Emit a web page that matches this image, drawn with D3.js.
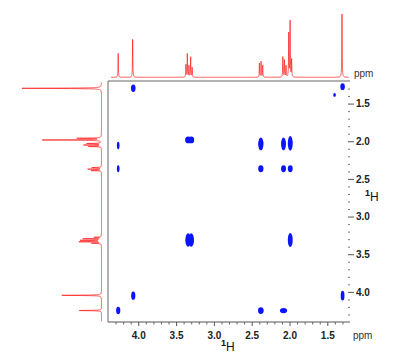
<!DOCTYPE html>
<html><head><meta charset="utf-8">
<script src="https://cdn.jsdelivr.net/npm/d3@7"></script>
<style>
html,body{margin:0;padding:0;background:#fff;}
svg{display:block;font-family:"Liberation Sans",Arial,sans-serif;}
</style></head>
<body>
<svg id="c" width="400" height="357"></svg>
<script>
// ---- data ----
const xDomain = [4.4, 1.2];
const yDomain = [1.2, 4.4];
const majorTicks = [4.0, 3.5, 3.0, 2.5, 2.0, 1.5];
const yMajorTicks = [1.5, 2.0, 2.5, 3.0, 3.5, 4.0];
const tickLabels = ["4.0", "3.5", "3.0", "2.5", "2.0", "1.5"];
const yTickLabels = ["1.5", "2.0", "2.5", "3.0", "3.5", "4.0"];
const axisTitle = "H";
const axisIsotope = "1";
const unitLabel = "ppm";

// F2 (top) 1D spectrum lines: shift (ppm), relative intensity
const topShifts  = [4.265, 4.074, 3.370, 3.351, 3.330, 3.307, 3.287, 2.398, 2.376, 2.354, 2.088, 2.067, 2.046, 2.010, 1.992, 1.972, 1.306];
const topHeights = [0.38, 0.60, 0.20, 0.37, 0.18, 0.32, 0.15, 0.22, 0.25, 0.19, 0.32, 0.27, 0.18, 0.70, 0.88, 0.28, 1.00];

// F1 (left) 1D spectrum lines
const leftShifts  = [1.297, 1.960, 1.983, 2.030, 2.050, 2.070, 2.350, 2.370, 2.390, 3.275, 3.295, 3.315, 3.335, 3.355, 4.046, 4.248];
const leftHeights = [1.00, 0.30, 0.74, 0.18, 0.22, 0.16, 0.12, 0.17, 0.13, 0.09, 0.23, 0.26, 0.28, 0.12, 0.50, 0.28];

// 2D cross/diagonal peaks: F2 ppm, F1 ppm, F2 width ppm, F1 width ppm
const peakF2 = [4.066, 1.298, 1.404, 4.265, 4.265, 3.340, 3.300, 2.379, 2.079, 1.990, 2.379, 2.079, 1.990, 3.340, 3.300, 1.990, 4.066, 4.265, 2.379, 2.079, 1.298];
const peakF1 = [1.297, 1.276, 1.385, 2.058, 2.365, 1.983, 1.983, 2.036, 2.036, 2.028, 2.365, 2.365, 2.365, 3.311, 3.311, 3.311, 4.050, 4.248, 4.248, 4.248, 4.050];
const peakW2 = [0.060, 0.060, 0.035, 0.035, 0.035, 0.080, 0.080, 0.070, 0.065, 0.065, 0.070, 0.065, 0.065, 0.075, 0.075, 0.065, 0.055, 0.055, 0.075, 0.095, 0.050];
const peakW1 = [0.100, 0.090, 0.050, 0.100, 0.090, 0.090, 0.090, 0.170, 0.170, 0.195, 0.090, 0.090, 0.090, 0.180, 0.180, 0.185, 0.110, 0.100, 0.090, 0.070, 0.130];

// ---- layout ----
const L = 108, R = 350, T = 81, B = 322;
const svg = d3.select("#c");
const x = d3.scaleLinear().domain(xDomain).range([L, R]);
const y = d3.scaleLinear().domain(yDomain).range([T, B]);
const topY = d3.scaleLinear().domain([0, 1]).range([77.3, 14]);
const leftX = d3.scaleLinear().domain([0, 1]).range([101.5, 22]);

function lineshape(shifts, heights, lo, hi, g) {
  const pts = [];
  for (let p = lo; p <= hi + 1e-9; p += 0.0007) {
    let v = 0;
    for (let i = 0; i < shifts.length; i++) {
      const d = p - shifts[i];
      v += heights[i] * g * g / (d * d + g * g);
    }
    pts.push([p, v]);
  }
  return pts;
}

// top spectrum
const topPts = lineshape(topShifts, topHeights, 1.22, 4.36, 0.0028);
svg.append("path")
  .attr("d", d3.line().x(d => x(d[0])).y(d => topY(d[1]))(topPts))
  .attr("fill", "none").attr("stroke", "#ff1010").attr("stroke-width", 0.75).attr("stroke-opacity", 0.9);

// left spectrum
const leftPts = lineshape(leftShifts, leftHeights, 1.22, 4.39, 0.0028);
svg.append("path")
  .attr("d", d3.line().x(d => leftX(d[1])).y(d => y(d[0]))(leftPts))
  .attr("fill", "none").attr("stroke", "#ff1010").attr("stroke-width", 0.75).attr("stroke-opacity", 0.9);

// frame (top & left)
svg.append("line").attr("x1", L).attr("x2", R).attr("y1", T).attr("y2", T)
  .attr("stroke", "#666").attr("stroke-width", 1);
svg.append("line").attr("x1", L).attr("x2", L).attr("y1", T).attr("y2", B)
  .attr("stroke", "#666").attr("stroke-width", 1);

// cross peaks
const peaks = peakF2.map((v, i) => ({f2: v, f1: peakF1[i], w2: peakW2[i], w1: peakW1[i]}));
svg.append("g").selectAll("ellipse").data(peaks).join("ellipse")
  .attr("cx", d => x(d.f2)).attr("cy", d => y(d.f1))
  .attr("rx", d => Math.abs(x(d.f2 + d.w2 / 2) - x(d.f2)))
  .attr("ry", d => Math.abs(y(d.f1 + d.w1 / 2) - y(d.f1)))
  .attr("fill", "#0a14ff");

// minor ticks
const minor = d3.range(13, 44).map(v => v / 10).filter(v => v >= 1.2 && v <= 4.4 && Math.abs(v * 2 - Math.round(v * 2)) > 1e-6);

// bottom axis
const bx = svg.append("g").attr("transform", `translate(0,${B})`);
bx.append("line").attr("x1", L).attr("x2", R).attr("stroke", "#555");
bx.append("g").call(d3.axisBottom(x).tickValues(minor).tickSize(2.5).tickFormat(""))
  .call(g => g.select(".domain").remove())
  .call(g => g.selectAll("line").attr("stroke", "#666"));
bx.append("g").call(d3.axisBottom(x).tickValues(majorTicks).tickSize(4)
    .tickFormat((d, i) => tickLabels[i]).tickPadding(6))
  .call(g => g.select(".domain").remove())
  .call(g => g.selectAll("line").attr("stroke", "#555"))
  .call(g => g.selectAll("text").attr("font-size", 10).attr("font-weight", "bold")
    .attr("fill", "#222").attr("font-family", "Liberation Sans, Arial, sans-serif"));

// right axis (ticks only)
const ry = svg.append("g").attr("transform", `translate(${R - 2},0)`);
ry.append("g").call(d3.axisRight(y).tickValues(minor).tickSize(2).tickFormat(""))
  .call(g => g.select(".domain").remove())
  .call(g => g.selectAll("line").attr("stroke", "#777"));
ry.append("g").call(d3.axisRight(y).tickValues(yMajorTicks).tickSize(6)
    .tickFormat((d, i) => yTickLabels[i]).tickPadding(2))
  .call(g => g.select(".domain").remove())
  .call(g => g.selectAll("line").attr("stroke", "#555"))
  .call(g => g.selectAll("text").attr("font-size", 10).attr("font-weight", "bold")
    .attr("fill", "#222").attr("font-family", "Liberation Sans, Arial, sans-serif"));

// unit labels
svg.append("text").attr("x", 354).attr("y", 77).attr("font-size", 10).attr("fill", "#333").text(unitLabel);
svg.append("text").attr("x", 353).attr("y", 339).attr("font-size", 10).attr("fill", "#333").text(unitLabel);

// axis titles
function title(xp, yp) {
  const t = svg.append("text").attr("x", xp).attr("y", yp).attr("fill", "#111");
  t.append("tspan").attr("font-size", 9).attr("font-weight", "bold").attr("dy", -5).text(axisIsotope);
  t.append("tspan").attr("font-size", 12).attr("dy", 5).text(axisTitle);
}
title(221, 351);
title(365, 201);
</script>
</body></html>
